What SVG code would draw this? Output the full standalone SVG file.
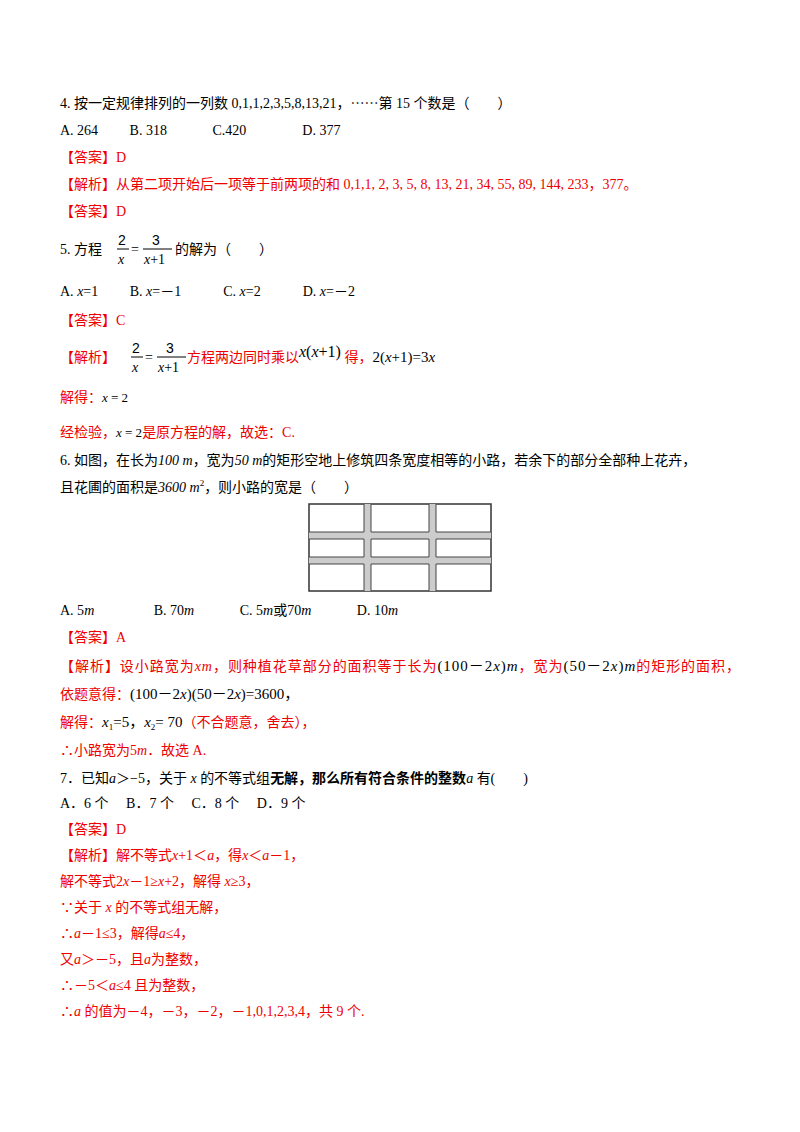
<svg xmlns="http://www.w3.org/2000/svg" width="800" height="1132" viewBox="0 0 800 1132">
<style>
text{font-family:"Liberation Serif","Noto Sans CJK SC",serif;font-size:14px;fill:#000}
.r{fill:#e00}
.i{font-style:italic}
.s{font-family:"Liberation Sans","Noto Sans CJK SC",sans-serif}
.k{fill:#000}
</style>
<rect width="800" height="1132" fill="#fff"/>
<text x="60" y="108">4. 按一定规律排列的一列数 0,1,1,2,3,5,8,13,21，⋯⋯第 15 个数是（　　）</text>
<text x="60" y="135">A. 264　　 B.  318　　　 C.420　　　　D. 377</text>
<text x="60" y="162" class="r">【答案】D</text>
<text x="60" y="189" class="r">【解析】从第二项开始后一项等于前两项的和 0,1,1, 2, 3, 5, 8, 13, 21, 34, 55, 89, 144, 233，377。</text>
<text x="60" y="216" class="r">【答案】D</text>
<text x="60" y="254">5. 方程</text>
<text x="118" y="245" class="s" font-size="15">2</text>
<line x1="117" y1="249" x2="129" y2="249" stroke="#000"/>
<text x="118" y="264" class="i">x</text>
<text x="131" y="254">=</text>
<text x="152" y="245" class="s" font-size="15">3</text>
<line x1="143" y1="249" x2="172" y2="249" stroke="#000"/>
<text x="144" y="264"><tspan class="i">x</tspan>+1</text>
<text x="175" y="254">的解为（　　）</text>
<text x="60" y="296">A.  <tspan class="i">x</tspan>=1　　 B.  <tspan class="i">x</tspan>=－1　　　C.  <tspan class="i">x</tspan>=2　　　D.  <tspan class="i">x</tspan>=－2</text>
<text x="60" y="325" class="r">【答案】C</text>
<text x="60" y="362" class="r">【解析】</text>
<text x="132" y="353" class="s" font-size="15">2</text>
<line x1="131" y1="357" x2="143" y2="357" stroke="#000"/>
<text x="132" y="372" class="i">x</text>
<text x="145" y="362">=</text>
<text x="166" y="353" class="s" font-size="15">3</text>
<line x1="157" y1="357" x2="186" y2="357" stroke="#000"/>
<text x="158" y="372"><tspan class="i">x</tspan>+1</text>
<text x="187" y="362" class="r">方程两边同时乘以<tspan class="k" font-size="16" dy="-5"><tspan class="i">x</tspan>(<tspan class="i">x</tspan>+1)</tspan><tspan dy="5"> 得，</tspan><tspan class="k" font-size="15">2(<tspan class="i">x</tspan>+1)=3<tspan class="i">x</tspan></tspan></text>
<text x="60" y="402" class="r">解得：<tspan class="k" font-size="13"><tspan class="i">x</tspan> = 2</tspan></text>
<text x="60" y="437" class="r">经检验，<tspan class="k" font-size="13"><tspan class="i">x</tspan> = 2</tspan>是原方程的解，故选：C.</text>
<text x="60" y="465">6. 如图，在长为<tspan class="i">100 m</tspan>，宽为<tspan class="i">50 m</tspan>的矩形空地上修筑四条宽度相等的小路，若余下的部分全部种上花卉，</text>
<text x="60" y="492">且花圃的面积是<tspan class="i">3600 m</tspan><tspan font-size="9" dy="-6">2</tspan><tspan dy="6">，则小路的宽是（　　）</tspan></text>
<g id="figure">
<rect x="309" y="504" width="182" height="87" fill="#fff" stroke="#333" stroke-width="1.5"/>
<rect x="309" y="532" width="182" height="7" fill="#ccc"/>
<rect x="309" y="557" width="182" height="7" fill="#ccc"/>
<rect x="364" y="504" width="7" height="87" fill="#ccc"/>
<rect x="429" y="504" width="7" height="87" fill="#ccc"/>
<g stroke="#444" stroke-width="1" fill="none">
<path d="M309 532H364M371 532H429M436 532H491M309 539H364M371 539H429M436 539H491"/>
<path d="M309 557H364M371 557H429M436 557H491M309 564H364M371 564H429M436 564H491"/>
<path d="M364 504V532M364 539V557M364 564V591M371 504V532M371 539V557M371 564V591"/>
<path d="M429 504V532M429 539V557M429 564V591M436 504V532M436 539V557M436 564V591"/>
</g>
</g>
<text x="60" y="615">A. 5<tspan class="i">m</tspan>　　　　 B. 70<tspan class="i">m</tspan>　　　 C. 5<tspan class="i">m</tspan>或70<tspan class="i">m</tspan>　　　 D. 10<tspan class="i">m</tspan></text>
<text x="60" y="642" class="r">【答案】A</text>
<text x="60" y="671" class="r" textLength="680" lengthAdjust="spacing">【解析】设小路宽为<tspan class="i">xm</tspan>，则种植花草部分的面积等于长为<tspan class="k" font-size="15">(100－2<tspan class="i">x</tspan>)<tspan class="i">m</tspan></tspan>，宽为<tspan class="k" font-size="15">(50－2<tspan class="i">x</tspan>)<tspan class="i">m</tspan></tspan>的矩形的面积，</text>
<text x="60" y="699" class="r">依题意得：<tspan class="k" font-size="15">(100－2<tspan class="i">x</tspan>)(50－2<tspan class="i">x</tspan>)=3600，</tspan></text>
<text x="60" y="727" class="r">解得：<tspan class="k" font-size="15"><tspan class="i">x</tspan><tspan font-size="9" dy="3">1</tspan><tspan dy="-3">=5，</tspan><tspan class="i">x</tspan><tspan font-size="9" dy="3">2</tspan><tspan dy="-3">= 70</tspan></tspan>（不合题意，舍去），</text>
<text x="60" y="755" class="r">∴小路宽为5<tspan class="i">m</tspan>．故选 A.</text>
<text x="60" y="783">7．已知<tspan class="i">a</tspan>＞−5，关于 <tspan class="i">x</tspan> 的不等式组<tspan font-weight="bold">无解，那么所有符合条件的整数</tspan><tspan class="i">a</tspan> 有(　　)</text>
<text x="60" y="808">A．6 个　 B．7 个　 C．8 个　 D．9 个</text>
<text x="60" y="834" class="r">【答案】D</text>
<text x="60" y="860" class="r">【解析】解不等式<tspan class="i">x</tspan>+1＜<tspan class="i">a</tspan>，得<tspan class="i">x</tspan>＜<tspan class="i">a</tspan>－1，</text>
<text x="60" y="886" class="r">解不等式2<tspan class="i">x</tspan>－1≥<tspan class="i">x</tspan>+2，解得 <tspan class="i">x</tspan>≥3，</text>
<text x="60" y="912" class="r">∵关于 <tspan class="i">x</tspan> 的不等式组无解，</text>
<text x="60" y="938" class="r">∴<tspan class="i">a</tspan>－1≤3，解得<tspan class="i">a</tspan>≤4，</text>
<text x="60" y="964" class="r">又<tspan class="i">a</tspan>＞－5，且<tspan class="i">a</tspan>为整数，</text>
<text x="60" y="990" class="r">∴－5＜<tspan class="i">a</tspan>≤4 且为整数，</text>
<text x="60" y="1016" class="r">∴<tspan class="i">a</tspan> 的值为－4，－3，－2，－1,0,1,2,3,4，共 9 个.</text>
</svg>
